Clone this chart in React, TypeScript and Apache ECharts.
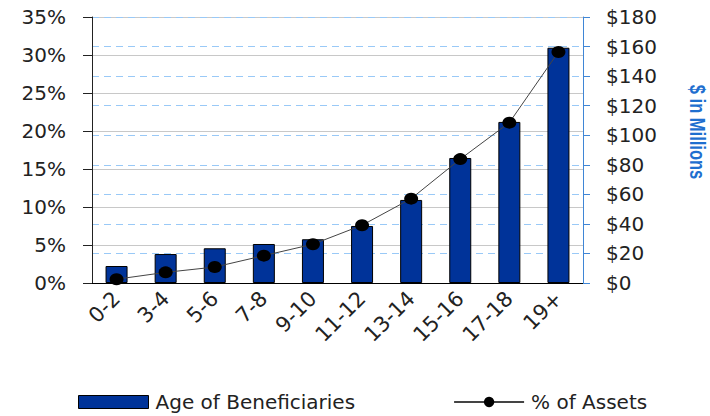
import React, { useEffect, useRef } from "react";
import * as echarts from "echarts";

const categories = ["0-2", "3-4", "5-6", "7-8", "9-10", "11-12", "13-14", "15-16", "17-18", "19+"];
const beneficiaryValues = [11.5, 19.6, 23.5, 26.4, 29.6, 38.6, 56.2, 84.6, 109, 159.2];
const assetPercentValues = [0.5, 1.4, 2.1, 3.6, 5.1, 7.6, 11.1, 16.3, 21.1, 30.4];
const leftTicks = { min: 0, max: 35, interval: 5 };
const rightTicks = { min: 0, max: 180, interval: 20 };

const FONT = "DejaVu Sans";

export default function App() {
  const ref = useRef<HTMLDivElement>(null);
  useEffect(() => {
    if (!ref.current) return;
    const chart = echarts.init(ref.current, undefined, { renderer: "svg" });
    chart.setOption({
      animation: false,
      backgroundColor: "#ffffff",
      textStyle: { fontFamily: FONT },
      grid: { left: 92, right: 127, top: 17, bottom: 133, containLabel: false },
      legend: {
        left: 73,
        top: 387,
        itemGap: 98,
        itemWidth: 70,
        itemHeight: 13,
        textStyle: { fontFamily: FONT, fontSize: 20, color: "#222", padding: [0, 0, 0, 2] },
        data: [
          { name: "Age of Beneficiaries", icon: "rect", itemStyle: { color: "#003399", borderColor: "#000", borderWidth: 1 } },
          { name: "% of Assets" },
        ],
      },
      xAxis: {
        type: "category",
        data: categories,
        axisLine: { lineStyle: { color: "#000", width: 1 } },
        axisTick: { alignWithLabel: true, length: 6, lineStyle: { color: "#000" } },
        axisLabel: { rotate: 45, fontSize: 21, color: "#222", margin: 12, fontFamily: FONT },
      },
      yAxis: [
        {
          type: "value",
          position: "left",
          min: leftTicks.min,
          max: leftTicks.max,
          interval: leftTicks.interval,
          axisLine: { show: true, lineStyle: { color: "#222", width: 1 } },
          axisTick: { show: true, length: 9, lineStyle: { color: "#222" } },
          axisLabel: { formatter: "{value}%", fontSize: 20, color: "#222", margin: 26, fontFamily: FONT },
          splitLine: { show: true, lineStyle: { color: "#c8c8c8", width: 1 } },
        },
        {
          type: "value",
          position: "right",
          min: rightTicks.min,
          max: rightTicks.max,
          interval: rightTicks.interval,
          axisLine: { show: true, lineStyle: { color: "#3f86d6", width: 1 } },
          axisTick: { show: true, length: 7, lineStyle: { color: "#3f86d6" } },
          axisLabel: { formatter: "${value}", fontSize: 20, color: "#222", margin: 23, fontFamily: FONT },
          splitLine: { show: true, lineStyle: { color: "#99c9f7", width: 1, type: [7, 5] } },
        },
      ],
      graphic: [
        {
          type: "text",
          x: 698,
          y: 132,
          rotation: -Math.PI / 2,
          scaleX: 0.75,
          scaleY: 1,
          style: {
            text: "$ in Millions",
            fontFamily: "Liberation Sans",
            fontWeight: "bold",
            fontSize: 22,
            fill: "#1f6fcf",
            align: "center",
            verticalAlign: "middle",
          },
        },
      ],
      series: [
        {
          name: "Age of Beneficiaries",
          type: "bar",
          yAxisIndex: 1,
          data: beneficiaryValues,
          barWidth: 22,
          itemStyle: { color: "#003399", borderColor: "#000", borderWidth: 1 },
        },
        {
          name: "% of Assets",
          type: "line",
          yAxisIndex: 0,
          data: assetPercentValues,
          symbol: "circle",
          symbolSize: [14, 12],
          lineStyle: { color: "#444", width: 1 },
          itemStyle: { color: "#000" },
        },
      ],
    });
    return () => chart.dispose();
  }, []);
  return <div ref={ref} style={{ width: 710, height: 416, position: "absolute", left: 0, top: 0 }} />;
}
